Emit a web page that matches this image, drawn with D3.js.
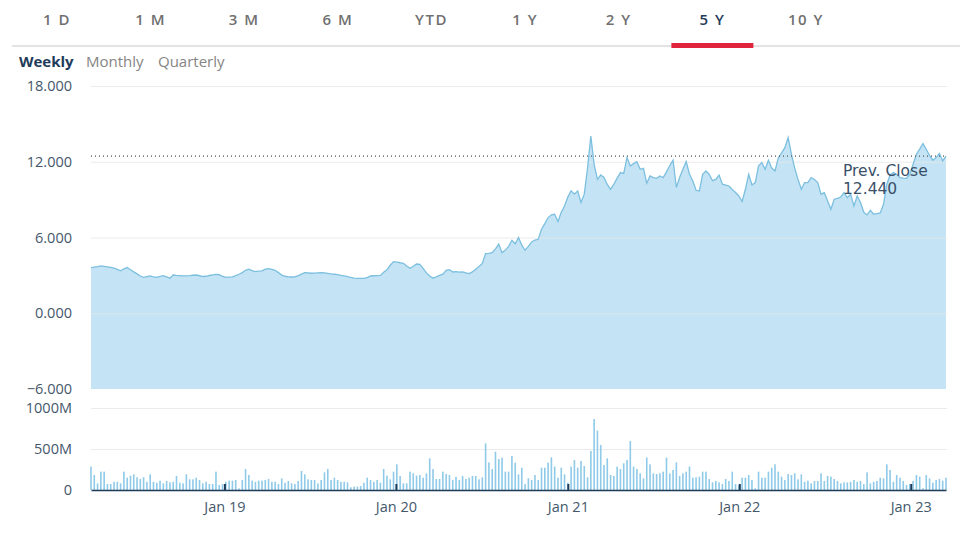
<!DOCTYPE html>
<html>
<head>
<meta charset="utf-8">
<script src="https://cdn.jsdelivr.net/npm/d3@7"></script>
<style>
  body { margin: 0; background: #fff; }
  svg { display: block; }
</style>
</head>
<body>
<svg id="chart" width="974" height="540"></svg>
<script>
// range tabs and period switches
const tabs = ["1 D", "1 M", "3 M", "6 M", "YTD", "1 Y", "2 Y", "5 Y", "10 Y"];
const activeTab = "5 Y";
const periods = ["Weekly", "Monthly", "Quarterly"];

// weekly closes, first week ending 2018-03-23
const firstWeek = new Date(2018, 2, 23);
const prices = [
  3.62, 3.66, 3.70, 3.75, 3.72, 3.68, 3.64, 3.58, 3.48, 3.36,
  3.52, 3.62, 3.45, 3.28, 3.12, 2.95, 2.84, 2.90, 2.96, 2.88,
  2.85, 2.92, 2.98, 2.88, 2.78, 3.03, 3.00, 2.98, 2.96, 2.96,
  2.98, 3.01, 3.03, 2.97, 2.91, 2.93, 2.99, 3.04, 3.08, 3.05,
  2.92, 2.84, 2.86, 2.88, 2.98, 3.09, 3.22, 3.40, 3.49, 3.38,
  3.30, 3.33, 3.36, 3.50, 3.54, 3.48, 3.40, 3.22, 3.02, 2.93,
  2.88, 2.87, 2.88, 2.98, 3.10, 3.22, 3.20, 3.17, 3.18, 3.20,
  3.22, 3.20, 3.16, 3.12, 3.09, 3.06, 3.00, 2.96, 2.90, 2.84,
  2.78, 2.76, 2.77, 2.77, 2.82, 2.95, 2.97, 2.98, 3.00, 3.25,
  3.45, 3.80, 4.09, 4.05, 4.00, 3.96, 3.75, 3.56, 3.72, 3.90,
  3.88, 3.55, 3.20, 2.95, 2.78, 2.88, 3.00, 3.10, 3.40, 3.45,
  3.27, 3.30, 3.26, 3.27, 3.20, 3.14, 3.28, 3.49, 3.70, 3.95,
  4.73, 4.75, 4.80, 5.10, 5.47, 4.80, 5.00, 5.30, 5.78, 5.50,
  6.00, 5.40, 4.99, 5.30, 5.65, 5.80, 5.86, 6.65, 7.10, 7.58,
  7.80, 7.84, 7.26, 8.00, 8.50, 9.20, 9.69, 9.43, 9.69, 8.77,
  9.43, 11.50, 14.04, 11.80, 10.61, 10.95, 10.75, 10.20, 9.82, 10.22,
  10.70, 11.14, 11.07, 12.33, 11.67, 11.85, 12.01, 11.40, 11.48, 10.30,
  10.88, 10.75, 10.69, 10.88, 10.75, 11.20, 11.70, 12.12, 9.96, 10.75,
  11.40, 12.01, 11.00, 10.48, 9.74, 9.69, 11.00, 11.27, 11.00, 10.50,
  10.60, 10.95, 10.22, 10.15, 10.08, 9.80, 9.56, 9.29, 8.85, 9.82,
  11.00, 10.16, 10.35, 11.67, 11.94, 11.40, 12.12, 11.50, 11.27, 12.30,
  12.70, 13.12, 13.92, 12.59, 11.50, 10.60, 9.82, 10.35, 10.35, 10.75,
  10.60, 10.35, 9.43, 9.56, 8.90, 8.24, 9.03, 9.10, 9.21, 9.56,
  9.16, 9.43, 8.50, 9.29, 8.77, 8.00, 7.79, 8.16, 7.84, 7.90,
  7.95, 8.63, 10.22, 10.95, 11.14, 11.00, 10.75, 10.70, 10.69, 11.00,
  11.80, 12.59, 13.00, 13.44, 12.99, 12.50, 12.12, 12.33, 12.65, 12.06,
  12.44
];

// weekly volume in millions
const volumes = [
  285, 183, 81, 224, 224, 73, 73, 100, 100, 81,
  224, 150, 175, 191, 155, 134, 155, 100, 191, 100,
  89, 114, 81, 110, 93, 100, 171, 89, 81, 191,
  130, 130, 150, 122, 81, 100, 73, 73, 224, 61,
  73, 100, 114, 114, 122, 20, 122, 256, 183, 114,
  100, 114, 114, 122, 134, 100, 100, 73, 142, 89,
  110, 81, 73, 110, 232, 191, 130, 122, 122, 81,
  122, 215, 256, 122, 150, 122, 100, 100, 93, 33,
  41, 41, 49, 89, 150, 122, 100, 122, 89, 256,
  175, 130, 224, 313, 171, 81, 81, 224, 203, 175,
  183, 150, 203, 386, 256, 134, 134, 224, 195, 183,
  122, 160, 122, 171, 134, 150, 171, 171, 130, 155,
  569, 337, 256, 467, 378, 394, 224, 224, 415, 333,
  191, 272, 73, 142, 122, 183, 122, 272, 272, 333,
  398, 285, 150, 272, 191, 89, 285, 366, 272, 354,
  293, 155, 476, 866, 724, 549, 305, 386, 183, 171,
  285, 256, 325, 366, 598, 285, 256, 203, 142, 398,
  313, 203, 195, 203, 224, 394, 203, 244, 337, 171,
  203, 224, 285, 150, 155, 163, 224, 224, 134, 93,
  110, 93, 73, 134, 110, 224, 73, 61, 150, 150,
  183, 122, 20, 224, 150, 150, 224, 272, 313, 224,
  163, 122, 195, 183, 203, 130, 191, 100, 114, 81,
  110, 110, 203, 110, 171, 163, 134, 110, 81, 93,
  93, 100, 122, 100, 110, 73, 215, 81, 100, 110,
  150, 142, 313, 244, 100, 183, 150, 110, 61, 73,
  110, 183, 163, 20, 183, 142, 89, 122, 134, 114,
  150
];

const prevClose = 12.44;
const priceTicks = [-6, 0, 6, 12, 18];
const volumeTicks = [0, 500, 1000];

const weeks = prices.map((p, i) => d3.timeWeek.offset(firstWeek, i));
const series = prices.map((p, i) => ({ date: weeks[i], price: p, volume: volumes[i] }));

const svg = d3.select("#chart");
const navy = "#1f3b5a";
const slate = "#44586b";

// tabs
const tabX = d3.scalePoint().domain(tabs).range([57, 806]);
svg.append("g").selectAll("text")
  .data(tabs)
  .enter().append("text")
  .attr("x", d => tabX(d))
  .attr("y", 25)
  .attr("text-anchor", "middle")
  .attr("font-family", "Open Sans, sans-serif")
  .attr("font-size", 15)
  .attr("font-weight", 600)
  .attr("letter-spacing", 1.5)
  .attr("fill", d => d === activeTab ? navy : "#707070")
  .text(d => d);

svg.append("line")
  .attr("x1", 12).attr("x2", 960)
  .attr("y1", 46).attr("y2", 46)
  .attr("stroke", "#e3e3e3")
  .attr("stroke-width", 2);

svg.append("rect")
  .attr("x", tabX(activeTab) - 41)
  .attr("y", 43)
  .attr("width", 82)
  .attr("height", 5)
  .attr("fill", "#e0243e");

// period switch
const periodX = [19, 86, 158];
svg.append("g").selectAll("text")
  .data(periods)
  .enter().append("text")
  .attr("x", (d, i) => periodX[i])
  .attr("y", 67)
  .attr("font-family", "Open Sans, sans-serif")
  .attr("font-size", 15)
  .attr("font-weight", (d, i) => i === 0 ? 700 : 400)
  .attr("fill", (d, i) => i === 0 ? navy : "#858585")
  .text(d => d);

// scales
const x = d3.scaleTime()
  .domain(d3.extent(weeks))
  .range([91, 946]);

const y = d3.scaleLinear().domain([-6, 18]).range([389, 86]);
const yVol = d3.scaleLinear().domain([0, 1000]).range([490, 408]);

// price area
const area = d3.area()
  .x(d => x(d.date))
  .y0(y(-6))
  .y1(d => y(d.price));

const line = d3.line()
  .x(d => x(d.date))
  .y(d => y(d.price));

svg.append("path")
  .datum(series)
  .attr("d", area)
  .attr("fill", "#c4e4f5");

// price grid
const priceGrid = d3.axisLeft(y)
  .tickValues(priceTicks)
  .tickSize(-(947 - 91))
  .tickFormat(d3.format(".3f"));

svg.append("g")
  .attr("transform", "translate(91,0)")
  .call(priceGrid)
  .call(g => g.select(".domain").remove())
  .call(g => g.selectAll(".tick line")
    .attr("stroke", d => d === -6 ? "none" : "#e6e6e6")
    .attr("stroke-opacity", 0.8))
  .call(g => g.selectAll(".tick text")
    .attr("x", -19)
    .attr("fill", slate)
    .attr("font-family", "Open Sans, sans-serif")
    .attr("font-size", 14.5));

svg.append("path")
  .datum(series)
  .attr("d", line)
  .attr("fill", "none")
  .attr("stroke", "#7cbfdf")
  .attr("stroke-width", 1.3);

// prev close marker
svg.append("line")
  .attr("x1", 91).attr("x2", 946)
  .attr("y1", y(prevClose)).attr("y2", y(prevClose))
  .attr("stroke", "#555")
  .attr("stroke-width", 1.2)
  .attr("stroke-dasharray", "1,3");

const closeLabel = svg.append("text")
  .attr("font-family", "DejaVu Sans, sans-serif")
  .attr("font-size", 15.5)
  .attr("fill", "#3a5068");

closeLabel.append("tspan")
  .attr("x", 843)
  .attr("y", 176)
  .text("Prev. Close");

closeLabel.append("tspan")
  .attr("x", 843)
  .attr("y", 194)
  .text(prevClose.toFixed(3));

// volume grid
const volGrid = d3.axisLeft(yVol)
  .tickValues(volumeTicks)
  .tickSize(-(947 - 91))
  .tickFormat(d => d === 0 ? "0" : d + "M");

svg.append("g")
  .attr("transform", "translate(91,0)")
  .call(volGrid)
  .call(g => g.select(".domain").remove())
  .call(g => g.selectAll(".tick line")
    .attr("stroke", d => d === 0 ? "none" : "#ebebeb"))
  .call(g => g.selectAll(".tick text")
    .attr("x", -19)
    .attr("fill", slate)
    .attr("font-family", "Open Sans, sans-serif")
    .attr("font-size", 14.5));

// volume bars
svg.append("g").selectAll("rect")
  .data(series)
  .enter().append("rect")
  .attr("x", d => x(d.date) - 0.8)
  .attr("y", d => yVol(d.volume))
  .attr("width", 1.6)
  .attr("height", d => yVol(0) - yVol(d.volume))
  .attr("fill", "#8fcae8");

// x axis
const xAxis = d3.axisBottom(x)
  .ticks(d3.timeYear.every(1))
  .tickSizeInner(-6)
  .tickSizeOuter(0)
  .tickPadding(12)
  .tickFormat(d3.timeFormat("Jan %y"));

svg.append("g")
  .attr("transform", `translate(0,${yVol(0)})`)
  .call(xAxis)
  .call(g => g.select(".domain").attr("stroke", navy).attr("stroke-width", 1.5))
  .call(g => g.selectAll(".tick line").attr("stroke", navy).attr("stroke-width", 2))
  .call(g => g.selectAll(".tick text")
    .attr("fill", slate)
    .attr("font-family", "Open Sans, sans-serif")
    .attr("font-size", 14.5));
</script>
</body>
</html>
